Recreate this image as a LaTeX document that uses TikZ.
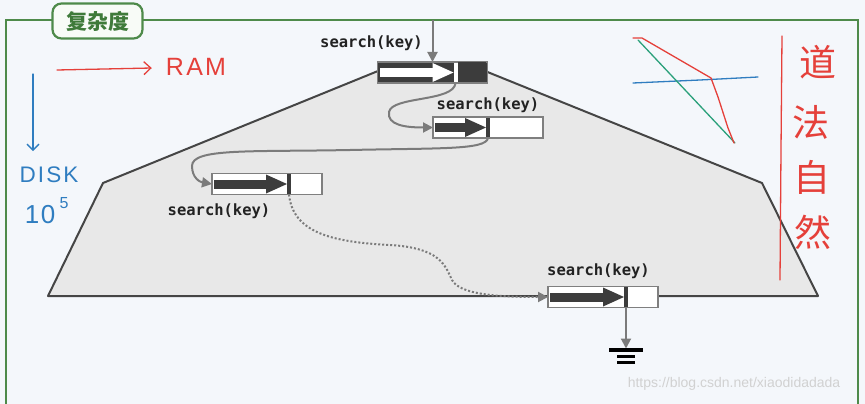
\documentclass[tikz,border=0pt]{standalone}
\usepackage{fontspec}
\newfontfamily\monob{DejaVu Sans Mono}
\newfontfamily\cjk{Noto Sans CJK SC}
\newfontfamily\hand{Liberation Sans}
\usetikzlibrary{arrows.meta,calc}
\definecolor{bgblue}{HTML}{F4F7FB}
\definecolor{framegreen}{HTML}{4E8A4A}
\definecolor{labelgreen}{HTML}{3F7A3A}
\definecolor{boxfill}{HTML}{F8FBF7}
\definecolor{trapfill}{HTML}{E8E8E8}
\definecolor{trapline}{HTML}{454545}
\definecolor{bordergray}{HTML}{7F7F7F}
\definecolor{darkfill}{HTML}{3C3C3C}
\definecolor{conngray}{HTML}{7B7B7B}
\definecolor{textdark}{HTML}{222222}
\definecolor{handred}{HTML}{E5403A}
\definecolor{handblue}{HTML}{2F7DC0}
\definecolor{handgreen}{HTML}{2AA07A}
\newcommand\bufinner[3]{%
  \fill[#3] ($(#1.west)+(2,-4.5)$) rectangle ($(#1.west)+(#2-17,4.5)$);
  \fill[#3] ($(#1.west)+(#2-21,-9.5)$) -- ($(#1.west)+(#2,0)$) -- ($(#1.west)+(#2-21,9.5)$) -- cycle;
  \fill[#3] ($(#1.west)+(#2,-10.5)$) rectangle ($(#1.west)+(#2+4,10.5)$);
  \draw[bordergray, line width=1.2pt] (#1.north west) rectangle (#1.south east);
}
\begin{document}
\begin{tikzpicture}[x=1pt,y=-1pt,
  buf/.style={draw=bordergray, line width=1.2pt, minimum width=110pt, minimum height=21pt, inner sep=0pt, outer sep=0pt, fill=white},
  lbl/.style={font=\monob\bfseries\fontsize{15.5}{15.5}\selectfont, text=textdark, inner sep=0pt},
  conn/.style={draw=conngray, line width=2pt, -{Triangle[length=10pt,width=10pt]}},
  dotconn/.style={conn, dash pattern=on 2pt off 2pt},
  hw/.style={line width=1.3pt, line cap=round, line join=round},
  handtxt/.style={inner sep=0pt, font=\hand\fontsize{25}{25}\selectfont},
  cjktxt/.style={inner sep=0pt, text=handred, font=\cjk\fontsize{37}{37}\selectfont},
]
\useasboundingbox (0,0) rectangle (865,404);
\fill[bgblue] (0,0) rectangle (865,404);
% frame
\draw[framegreen, line width=2pt] (6,404) -- (6,20) -- (858,20) -- (858,404);
\node[draw=framegreen, line width=2.2pt, rounded corners=9pt, fill=boxfill, minimum width=90pt, minimum height=35pt, inner sep=0pt, text=labelgreen, font=\cjk\bfseries\fontsize{21}{21}\selectfont] (title) at (97.5,21) {复杂度};
% trapezoid
\filldraw[fill=trapfill, draw=trapline, line width=2pt, line join=round] (48,296) -- (103,183) -- (378,71) -- (485,71) -- (762,183) -- (818,296) -- cycle;
% handwriting
\node[handtxt, text=handred] (ram) at (196,67) {\addfontfeature{LetterSpace=9}RAM};
\coordinate (ramstart) at (57,70);
\draw[hw, handred, -{Straight Barb[length=7pt,width=13pt]}] (ramstart) -- ($(ram.west)+(-14,1)$);
\coordinate (diskstart) at (33,74);
\node[handtxt, text=handblue, font=\hand\fontsize{22.5}{22.5}\selectfont] (disk) at (49,175) {\addfontfeature{LetterSpace=9}DISK};
\draw[hw, handblue, -{Straight Barb[length=6pt,width=12pt]}] (diskstart) -- (33,151);
\node[handtxt, text=handblue, font=\hand\fontsize{26}{26}\selectfont] (ten) at (40,215) {\addfontfeature{LetterSpace=6}10};
\node[handtxt, text=handblue, font=\hand\fontsize{16}{16}\selectfont] (five) at (64,203) {5};
\draw[hw, handblue] (633,83) -- (700,80) -- (758,77);
\draw[hw, handgreen] (638,40) -- (735,143);
\draw[hw, handred] (633,38) -- (642,38) -- (711,78) -- (718,97) -- (728,128) -- (734,143);
\draw[hw, handred] (782,36) -- (781,150) -- (780,280);
\node[cjktxt] (dao) at (818,62) {道};
\node[cjktxt] (fa) at (811,122) {法};
\node[cjktxt] (zi) at (812,177) {自};
\node[cjktxt] (ran) at (813,232) {然};
% buffer nodes
\node[buf, fill=darkfill] (n1) at (432.5,72.5) {};
\node[buf] (n2) at (488,127.5) {};
\node[buf] (n3) at (267,184) {};
\node[buf] (n4) at (603,297) {};
% connectors
\coordinate (top) at (432.5,20);
\coordinate (s1) at ($(n1.south west)+(78,0)$);
\coordinate (s2) at ($(n2.south west)+(55,0)$);
\coordinate (s3) at ($(n3.south west)+(77,0)$);
\coordinate (s4) at ($(n4.south west)+(78,0)$);
\coordinate (gnd) at ($(s4)+(0,41)$);
\draw[conn] (top) -- (n1.north);
\draw[conn] (s1) .. controls (454,102) and (392,96) .. (389,112) .. controls (387,125) and (405,127.5) .. (n2.west);
\draw[conn] (s2) .. controls (486,150) and (440,148) .. (350,150) .. controls (250,152) and (192,148) .. (192,166) .. controls (192,178) and (200,182) .. (n3.west);
\draw[dotconn] (s3) .. controls (293,232) and (330,242) .. (390,245) .. controls (440,248) and (445,265) .. (452,280) .. controls (460,295) and (500,297) .. (n4.west);
\draw[conn] (s4) -- (gnd);
% redraw nodes on top
\node[buf, fill=darkfill] at (n1) {};
\bufinner{n1}{76}{white}
\node[buf] at (n2) {};
\bufinner{n2}{53}{darkfill}
\node[buf] at (n3) {};
\bufinner{n3}{75}{darkfill}
\node[buf] at (n4) {};
\bufinner{n4}{76}{darkfill}
\fill[darkfill] ($(n1.west)+(80,-10)$) rectangle ($(n1.east)+(-1.2,10)$);
% ground symbol
\draw[black, line width=3.5pt] ($(gnd)+(-17,1.5)$) -- ($(gnd)+(17,1.5)$);
\draw[black, line width=2.5pt] ($(gnd)+(-9,8)$) -- ($(gnd)+(9,8)$);
\draw[black, line width=2.5pt] ($(gnd)+(-9,14)$) -- ($(gnd)+(9,14)$);
% labels
\node[lbl] (l1) at (371.5,43) {search(key)};
\node[lbl] (l2) at (488,105) {search(key)};
\node[lbl] (l3) at (219,211) {search(key)};
\node[lbl] (l4) at (598.5,271) {search(key)};
% watermark
\node[inner sep=0pt, text=black!18, font=\hand\fontsize{14}{14}\selectfont] (wm) at (734,384) {https://blog.csdn.net/xiaodidadada};
\end{tikzpicture}
\end{document}
